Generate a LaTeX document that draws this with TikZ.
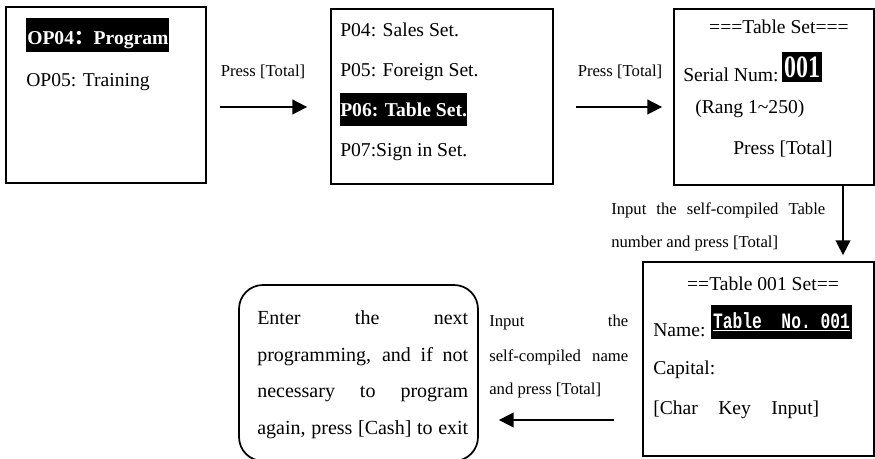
\documentclass[tikz,border=0pt]{standalone}
\usepackage{fontspec}
\setmainfont{Liberation Serif}
\newfontfamily\monof{Liberation Mono}
\newfontfamily\cjkf{Noto Sans CJK SC}
\usetikzlibrary{arrows.meta,calc}
\begin{document}
\begin{tikzpicture}[x=0.75pt,y=-0.75pt,
  box/.style={draw,line width=1.3pt,inner sep=0pt},
  txt/.style={anchor=base west,inner sep=0pt,font=\fontsize{14.7}{17}\selectfont},
  btxt/.style={anchor=base west,inner sep=0pt,font=\fontsize{15}{17}\selectfont},
  lbl/.style={inner sep=0pt,font=\fontsize{12.5}{15}\selectfont},
  hl/.style={fill=black,text=white},
  arr/.style={line width=1.2pt,-{Triangle[length=11pt,width=11pt]}}]
\useasboundingbox (0,0) rectangle (875,459);
% boxes
\node[box,minimum width=150pt,minimum height=132pt] (b1) at (106,95) {};
\node[box,minimum width=166.5pt,minimum height=131.25pt] (b2) at (442,96.5) {};
\node[box,minimum width=150pt,minimum height=132pt] (b3) at (774,97) {};
\node[box,minimum width=173.25pt,minimum height=145.5pt] (b4) at (758.5,359) {};
\node[box,rounded corners=18pt,minimum width=179.25pt,minimum height=132pt] (b5) at (358.5,373) {};
% box 1
\node[txt,hl,text height=20.25pt,text depth=5.25pt,inner xsep=0.75pt] (t11) at (26,45) {\bfseries OP04{\cjkf ：}Program};
\node[txt] (t12) at (26,87) {OP05: Training};
% box 2
\node[txt] (t21) at (340,37) {P04: Sales Set.};
\node[txt] (t22) at (340,77) {P05: Foreign Set.};
\node[txt,hl,text height=18pt,text depth=6.75pt] (t23) at (340,117) {\bfseries P06: Table Set.};
\node[txt] (t24) at (340,157) {P07:Sign in Set.};
% box 3
\node[txt,anchor=base] (t31) at (779,34) {===Table Set===};
\node[txt] (t32) at (683,82) {Serial Num:};
\node[hl,inner sep=0pt,minimum width=30pt,minimum height=22.5pt] (t33) at (802,67) {\fontsize{18}{18}\selectfont\bfseries\scalebox{1}[1.3]{001}};
\node[txt] (t34) at (695,114) {(Rang 1\textasciitilde250)};
\node[txt] (t35) at (733,155) {Press [Total]};
% box 4
\node[txt,anchor=base] (t41) at (763,291) {==Table 001 Set==};
\node[txt] (t42) at (653,337) {Name:};
\node[hl,inner sep=0pt,minimum width=105.75pt,minimum height=25.5pt] (t43) at (781.5,322) {\monof\bfseries\fontsize{12.2}{12}\selectfont\scalebox{1}[1.35]{\underline{Table\ \ No.\ 001}}};
\node[txt] (t44) at (653,375) {Capital:};
\node[txt] (t45) at (653,415) {\makebox[124.5pt][s]{[Char Key Input]}};
% box 5
\node[btxt] (t51) at (257,325) {\makebox[158.25pt][s]{Enter the next}};
\node[btxt] (t52) at (257,362) {\makebox[158.25pt][s]{programming, and if not}};
\node[btxt] (t53) at (257,398) {\makebox[158.25pt][s]{necessary to program}};
\node[btxt] (t54) at (257,435) {\makebox[158.25pt][s]{again, press [Cash] to exit}};
% labels
\node[lbl,anchor=base] (l1) at (263,77) {Press [Total]};
\node[lbl,anchor=base] (l2) at (620,77) {Press [Total]};
\node[lbl,anchor=base west] (l3a) at (611,215) {\makebox[160.5pt][s]{Input the self-compiled Table}};
\node[lbl,anchor=base west] (l3b) at (611,248) {number and press [Total]};
\node[lbl,anchor=base west] (l4a) at (489,327) {\makebox[104.25pt][s]{Input the}};
\node[lbl,anchor=base west] (l4b) at (489,362) {\makebox[104.25pt][s]{self-compiled name}};
\node[lbl,anchor=base west] (l4c) at (489,395) {and press [Total]};
% arrows
\draw[arr] ($(b1.east)+(13,12)$) -- ($(b2.west)+(-23,10.5)$);
\draw[arr] ($(b2.east)+(22,10.5)$) -- ($(b3.west)+(-11,10)$);
\draw[arr] ($(b3.south)+(69,0)$) -- ($(b4.north)+(84.5,-6)$);
\draw[arr] ($(b4.west)+(-28,61)$) -- ($(b5.east)+(20,47)$);
\end{tikzpicture}
\end{document}
